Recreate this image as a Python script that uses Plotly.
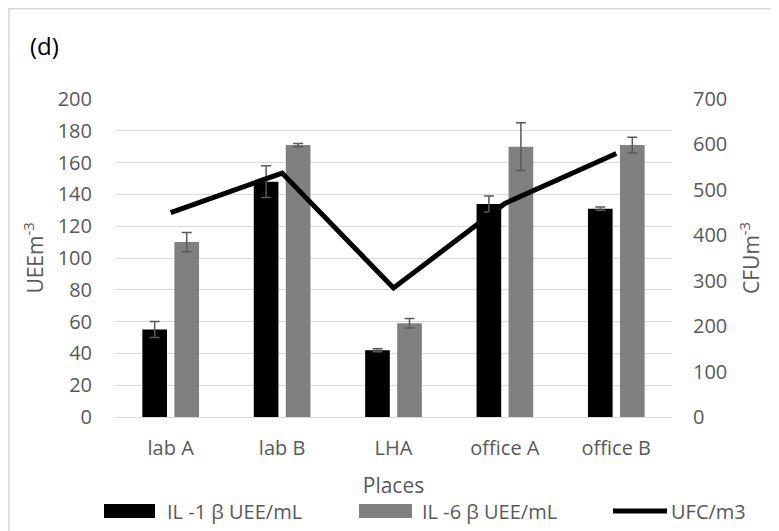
import plotly.graph_objects as go

places = ["lab A", "lab B", "LHA", "office A", "office B"]
il1 = [55, 148, 42, 134, 131]
il1_err = [5, 10, 1, 5, 1]
il6 = [110, 171, 59, 170, 171]
il6_err = [6, 1, 3, 15, 5]
ufc = [450, 537, 284, 470, 580]
legend_names = ["IL -1 β UEE/mL", "IL -6 β UEE/mL", "UFC/m3"]

FONT = "Open Sans"
GREY = "#595959"

fig = go.Figure()
fig.add_trace(go.Bar(
    x=places, y=il1, name=legend_names[0], marker=dict(color="#000000", line=dict(width=0)),
    error_y=dict(type="data", array=il1_err, color=GREY, thickness=1.5, width=5),
))
fig.add_trace(go.Bar(
    x=places, y=il6, name=legend_names[1], marker=dict(color="#808080", line=dict(width=0)),
    error_y=dict(type="data", array=il6_err, color=GREY, thickness=1.5, width=5),
))
fig.add_trace(go.Scatter(
    x=places, y=ufc, name=legend_names[2], mode="lines", yaxis="y2",
    line=dict(color="#000000", width=5),
))

# page is offset by the 8px body margin
OFF = 8
W, H = 779 - OFF, 531 - OFF
plot_left, plot_right, plot_top, plot_bottom = 115, 672, 99, 417  # page coordinates
L = plot_left - OFF
R = W - (plot_right - OFF)
T = plot_top - OFF
B = H - (plot_bottom - OFF)
pw, ph = plot_right - plot_left, plot_bottom - plot_top


def px(p):
    return (p - plot_left) / pw


def py(p):
    return (plot_bottom - p) / ph


leg_y = 511
shapes = [
    dict(type="rect", xref="paper", yref="paper",
         x0=px(8.8), x1=px(790), y0=py(545), y1=py(8.8),
         line=dict(color="#d9d9d9", width=1.5), fillcolor="rgba(0,0,0,0)", layer="below"),
    dict(type="rect", xref="paper", yref="paper", x0=px(104), x1=px(155), y0=py(leg_y + 7), y1=py(leg_y - 7),
         line=dict(width=0), fillcolor="#000000"),
    dict(type="rect", xref="paper", yref="paper", x0=px(359), x1=px(412), y0=py(leg_y + 7), y1=py(leg_y - 7),
         line=dict(width=0), fillcolor="#808080"),
    dict(type="line", xref="paper", yref="paper", x0=px(613), x1=px(667), y0=py(leg_y), y1=py(leg_y),
         line=dict(color="#000000", width=5)),
]
annotations = [
    dict(text="(d)", xref="paper", yref="paper", x=px(28), y=py(45),
         xanchor="left", yanchor="middle", showarrow=False,
         font=dict(size=24, color="#000000", family=FONT)),
]
for xpos, name in zip([165, 420, 669], legend_names):
    annotations.append(dict(text=name, xref="paper", yref="paper", x=px(xpos), y=py(leg_y),
                            xanchor="left", yanchor="middle", showarrow=False,
                            font=dict(size=20, color=GREY, family=FONT)))

fig.update_layout(
    width=W, height=H,
    margin=dict(l=L, r=R, t=T, b=B, autoexpand=False),
    paper_bgcolor="white", plot_bgcolor="white",
    font=dict(family=FONT, size=20, color=GREY),
    barmode="group", bargap=0.425, bargroupgap=0.23,
    showlegend=False,
    xaxis=dict(showgrid=False, showline=False, ticks="", tickfont=dict(size=20), automargin=False,
               ticklabelstandoff=17,
               title=dict(text="Places", font=dict(size=21), standoff=18)),
    yaxis=dict(range=[0, 200], dtick=20, showgrid=True, gridcolor="#d9d9d9", gridwidth=1.3,
               zeroline=True, zerolinecolor="#d9d9d9", zerolinewidth=1.3, showline=False, ticks="",
               ticklabelstandoff=22, automargin=False, tickfont=dict(size=20),
               title=dict(text="UEEm<sup>-3</sup>", font=dict(size=21), standoff=8)),
    yaxis2=dict(range=[0, 700], dtick=100, overlaying="y", side="right", showgrid=False,
                zeroline=False, showline=False, ticks="", ticklabelstandoff=20, automargin=False,
                tickfont=dict(size=20),
                title=dict(text="CFUm<sup>-3</sup>", font=dict(size=21), standoff=17)),
    shapes=shapes,
    annotations=annotations,
)

fig.write_html("out.html")
